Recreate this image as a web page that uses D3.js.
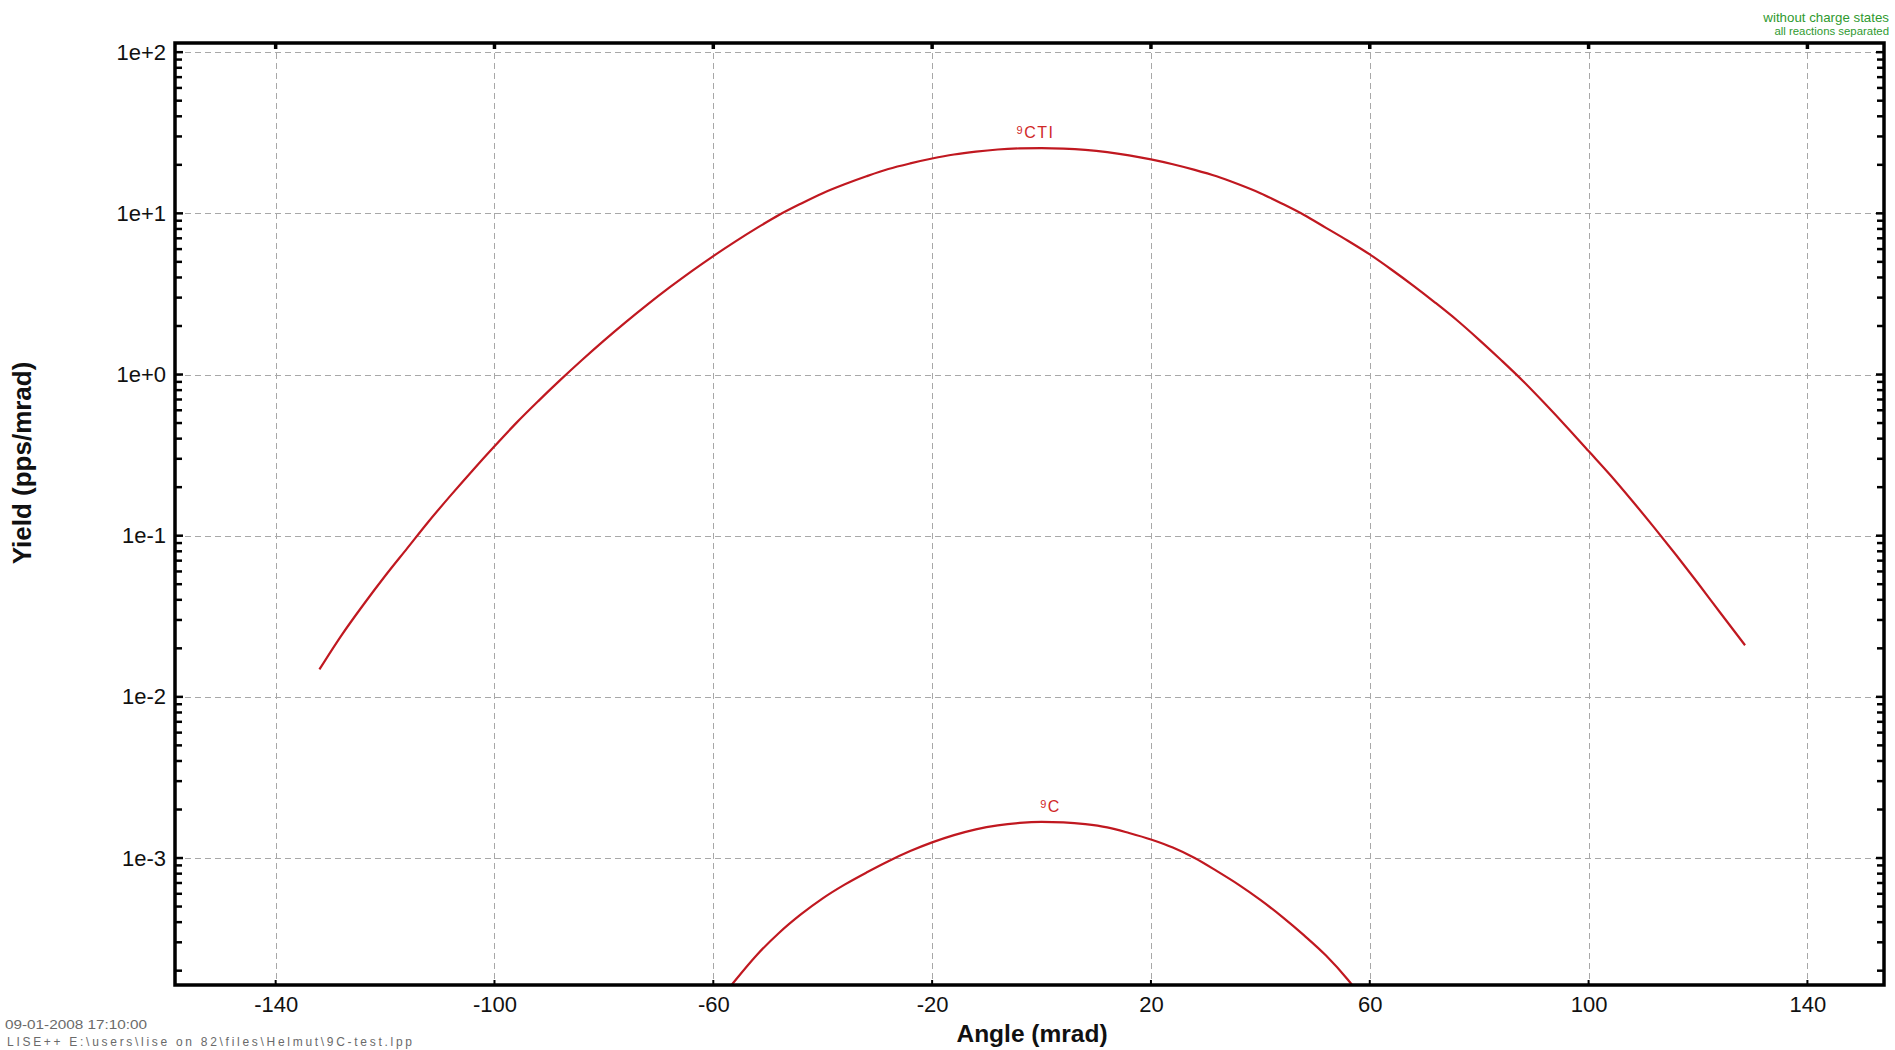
<!DOCTYPE html>
<html>
<head>
<meta charset="utf-8">
<script src="https://cdn.jsdelivr.net/npm/d3@7"></script>
<style>
  html, body { margin: 0; padding: 0; background: #ffffff; }
  svg { display: block; }
  text { font-family: "Liberation Sans", Arial, sans-serif; }
</style>
</head>
<body>
<svg id="chart" width="1895" height="1050"></svg>
<script>
// Yield of 9C+ (charge state) vs. angle, mrad
const angles9CTI = [-132, -128, -124, -120, -116, -112, -108, -104, -100, -96, -92, -88, -84, -80,
  -76, -72, -68, -64, -60, -56, -52, -48, -44, -40, -36, -32, -28, -24, -20, -16, -12, -8, -4, 0,
  4, 8, 12, 16, 20, 24, 28, 32, 36, 40, 44, 48, 52, 56, 60, 64, 68, 72, 76, 80, 84, 88, 92, 96,
  100, 104, 108, 112, 116, 120, 124, 128.6];
const yield9CTI = [0.01479, 0.02399, 0.03715, 0.05623, 0.08318, 0.1230, 0.1778, 0.2541, 0.3589,
  0.5012, 0.6839, 0.9226, 1.230, 1.622, 2.113, 2.723, 3.467, 4.365, 5.433, 6.683, 8.128, 9.772,
  11.48, 13.34, 15.14, 16.98, 18.84, 20.42, 21.88, 23.17, 24.15, 24.89, 25.29, 25.41,
  25.23, 24.77, 23.99, 22.91, 21.63, 20.18, 18.62, 16.98, 15.14, 13.34, 11.48, 9.772, 8.128,
  6.761, 5.559, 4.467, 3.548, 2.786, 2.163, 1.641, 1.230, 0.9120, 0.6607, 0.4732, 0.3350,
  0.2371, 0.1641, 0.1122, 0.07586, 0.05070, 0.03350, 0.02089];

// Yield of fully stripped 9C vs. angle, mrad
const angles9C = [-58, -56, -52, -48, -44, -40, -36, -32, -28, -24, -20, -16, -12, -8, -4, 0,
  4, 8, 12, 16, 20, 24, 28, 32, 36, 40, 44, 48, 52, 56, 58];
const yield9C = [1.429e-4, 1.738e-4, 2.512e-4, 3.428e-4, 4.467e-4, 5.623e-4, 6.839e-4, 8.128e-4,
  9.550e-4, 1.104e-3, 1.250e-3, 1.387e-3, 1.507e-3, 1.596e-3, 1.652e-3, 1.675e-3,
  1.663e-3, 1.622e-3, 1.549e-3, 1.429e-3, 1.303e-3, 1.161e-3, 1.000e-3, 8.318e-4, 6.839e-4,
  5.495e-4, 4.315e-4, 3.311e-4, 2.483e-4, 1.758e-4, 1.445e-4];

const seriesNames = ["9CTI", "9C"];

// Axis extents and tick marks
const xDomain = [-158.4, 154.0];
const yDomain = [1.63e-4, 114];
const xTickValues = [-140, -100, -60, -20, 20, 60, 100, 140];
const yTickValues = [1e-3, 1e-2, 1e-1, 1e0, 1e1, 1e2];
const yTickLabels = ["1e-3", "1e-2", "1e-1", "1e+0", "1e+1", "1e+2"];

const svg = d3.select("#chart");
const plot = { left: 175, right: 1884, top: 43, bottom: 985 };

const x = d3.scaleLinear().domain(xDomain).range([plot.left, plot.right]);
const y = d3.scaleLog().domain(yDomain).range([plot.bottom, plot.top]);

// minor log ticks (2..9 of each decade) inside the visible range
const minorTicks = [];
for (let e = -4; e <= 2; e++) {
  for (let m = 2; m <= 9; m++) {
    const v = m * Math.pow(10, e);
    if (v > yDomain[0] && v < yDomain[1]) minorTicks.push(v);
  }
}

// dashed grid
const grid = svg.append("g").attr("stroke", "#a8a8a8").attr("stroke-width", 1)
  .attr("stroke-dasharray", "6,4");
grid.selectAll("line.vx").data(xTickValues).join("line")
  .attr("x1", d => Math.round(x(d)) + 0.5).attr("x2", d => Math.round(x(d)) + 0.5)
  .attr("y1", plot.top).attr("y2", plot.bottom);
grid.selectAll("line.hy").data(yTickValues).join("line")
  .attr("x1", plot.left).attr("x2", plot.right)
  .attr("y1", d => Math.round(y(d)) + 0.5).attr("y2", d => Math.round(y(d)) + 0.5);

// curves, clipped to the plot frame
svg.append("clipPath").attr("id", "plotClip").append("rect")
  .attr("x", plot.left).attr("y", plot.top)
  .attr("width", plot.right - plot.left).attr("height", plot.bottom - plot.top);

const line = d3.line().x(d => x(d[0])).y(d => y(d[1])).curve(d3.curveMonotoneX);
const curves = [d3.zip(angles9CTI, yield9CTI), d3.zip(angles9C, yield9C)];
svg.append("g").attr("clip-path", "url(#plotClip)")
  .selectAll("path").data(curves).join("path")
  .attr("d", line)
  .attr("fill", "none")
  .attr("stroke", "#c01820")
  .attr("stroke-width", 2.2)
  .attr("stroke-linejoin", "round");

// curve labels above each maximum
curves.forEach((pts, i) => {
  const peak = pts.reduce((a, b) => (b[1] > a[1] ? b : a));
  const name = seriesNames[i];
  const t = svg.append("text")
    .attr("x", x(peak[0]) + (i === 0 ? -6 : 9))
    .attr("y", y(peak[1]) - 10)
    .attr("text-anchor", "middle")
    .attr("fill", "#d02828")
    .attr("font-size", 16)
    .attr("letter-spacing", 1.5);
  t.append("tspan").attr("font-size", 11).attr("dy", -4).text(name.slice(0, 1));
  t.append("tspan").attr("dy", 4).text(name.slice(1));
});

// tick labels
const xAxis = d3.axisBottom(x).tickValues(xTickValues).tickSize(0).tickPadding(0)
  .tickFormat(d => String(d));
const gx = svg.append("g").attr("transform", `translate(0,${plot.bottom})`).call(xAxis);
gx.select(".domain").remove();
gx.selectAll("text").attr("font-size", 22).attr("fill", "#111")
  .attr("font-family", "'Liberation Sans', Arial, sans-serif")
  .attr("dy", null).attr("y", 27);

const yAxis = d3.axisLeft(y).tickValues(yTickValues).tickSize(0).tickPadding(0)
  .tickFormat((d, i) => yTickLabels[i]);
const gy = svg.append("g").attr("transform", `translate(${plot.left - 9},0)`).call(yAxis);
gy.select(".domain").remove();
gy.selectAll("text").attr("font-size", 22).attr("fill", "#111")
  .attr("font-family", "'Liberation Sans', Arial, sans-serif");

// inward tick marks on all four sides
const ticks = svg.append("g").attr("stroke", "#000").attr("stroke-width", 2.5);
const allY = yTickValues.concat(minorTicks);
ticks.selectAll("line.l").data(allY).join("line")
  .attr("x1", plot.left).attr("x2", d => plot.left + (yTickValues.includes(d) ? 8 : 7))
  .attr("y1", d => y(d)).attr("y2", d => y(d));
ticks.selectAll("line.r").data(allY).join("line")
  .attr("x1", plot.right).attr("x2", d => plot.right - (yTickValues.includes(d) ? 8 : 7))
  .attr("y1", d => y(d)).attr("y2", d => y(d));
ticks.selectAll("line.t").data(xTickValues).join("line")
  .attr("x1", d => x(d)).attr("x2", d => x(d))
  .attr("y1", plot.top).attr("y2", plot.top + 6).attr("stroke-width", 3.5);
ticks.selectAll("line.b").data(xTickValues).join("line")
  .attr("x1", d => x(d)).attr("x2", d => x(d))
  .attr("y1", plot.bottom).attr("y2", plot.bottom - 5).attr("stroke-width", 2);

// frame
svg.append("rect")
  .attr("x", plot.left).attr("y", plot.top)
  .attr("width", plot.right - plot.left).attr("height", plot.bottom - plot.top)
  .attr("fill", "none").attr("stroke", "#000").attr("stroke-width", 3.5);

// axis titles
svg.append("text")
  .attr("x", 1032).attr("y", 1042)
  .attr("text-anchor", "middle")
  .attr("font-size", 24.5).attr("font-weight", "bold").attr("fill", "#111")
  .text("Angle (mrad)");
svg.append("text")
  .attr("transform", "translate(31,463) rotate(-90)")
  .attr("text-anchor", "middle")
  .attr("font-size", 26).attr("font-weight", "bold").attr("fill", "#111")
  .text("Yield (pps/mrad)");

// calculation notes, top right
const notes = svg.append("g").attr("fill", "#2f9a2f").attr("text-anchor", "end");
notes.append("text").attr("x", 1889).attr("y", 22).attr("font-size", 13.3)
  .text("without charge states");
notes.append("text").attr("x", 1889).attr("y", 35).attr("font-size", 11.4)
  .text("all reactions separated");

// date stamp and file path, bottom left
const stamp = svg.append("g").attr("fill", "#6a6a6a").attr("font-size", 12);
stamp.append("text").attr("x", 5).attr("y", 1029)
  .attr("textLength", 142).attr("lengthAdjust", "spacingAndGlyphs")
  .text("09-01-2008  17:10:00");
stamp.append("text").attr("x", 7).attr("y", 1046)
  .attr("textLength", 405).attr("lengthAdjust", "spacing")
  .text("LISE++  E:\\users\\lise on 82\\files\\Helmut\\9C-test.lpp");
</script>
</body>
</html>
